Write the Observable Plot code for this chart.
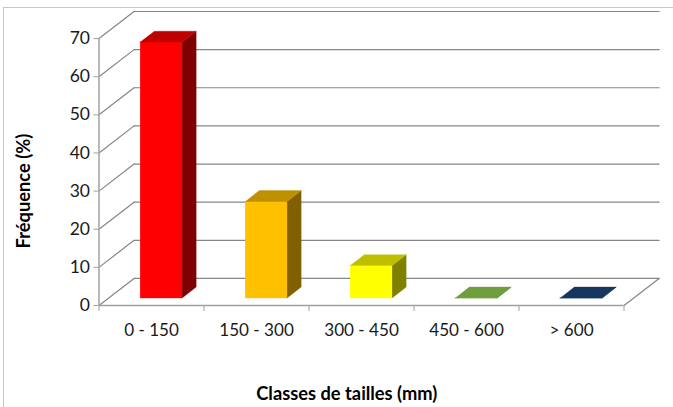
<!DOCTYPE html>
<html>
<head>
<meta charset="utf-8">
<script src="https://cdn.jsdelivr.net/npm/d3@7"></script>
<script src="https://cdn.jsdelivr.net/npm/@observablehq/plot@0.6"></script>
<style>
html,body{margin:0;padding:0;background:#fff;overflow:hidden}
#frame{position:absolute;left:3px;top:7px;width:670px;height:400px;border-left:1.5px solid #c6c6c6;border-top:1.5px solid #c6c6c6;box-sizing:border-box}
#chart{position:absolute;left:0;top:0}
</style>
</head>
<body>
<div id="frame"></div>
<div id="chart"></div>
<script>
const categories = ["0 - 150", "150 - 300", "300 - 450", "450 - 600", "> 600"];
const values = [67.1, 25.3, 8.5, 0, 0];
const frontColors = ["#FF0000", "#FFC000", "#FFFF00", "#9BBB59", "#1F497D"];
const topColors = ["#BE0000", "#BF9000", "#BFBF00", "#6F9F3C", "#17375E"];
const sideColors = ["#7F0000", "#806000", "#808000", "#4F6228", "#0F243E"];
const yTicks = [0, 10, 20, 30, 40, 50, 60, 70];
const xBounds = [0, 1, 2, 3, 4, 5];

// oblique depth of the chart box, in data units
const depthX = 0.334, depthY = 7.1;
const barLeft = 0.298, barWidth = 0.4, depthFront = 0.28, depthBack = 0.68;

const pt = (x, y, d) => ({x: x + d * depthX, y: y + d * depthY});

const grid = yTicks.flatMap(v => [
  {id: "w" + v, ...pt(0, v, 0)}, {id: "w" + v, ...pt(0, v, 1)},
  {id: "b" + v, ...pt(0, v, 1)}, {id: "b" + v, ...pt(5, v, 1)}
]);
grid.push({id: "fr", ...pt(5, 0, 0)}, {id: "fr", ...pt(5, 0, 1)});

const faces = categories.flatMap((c, i) => {
  const a = i + barLeft, b = a + barWidth, v = values[i];
  const face = (name, color, pts) => pts.map(p => ({id: c + name, color, ...p}));
  return [
    ...face("front", frontColors[i], [pt(a,0,depthFront), pt(b,0,depthFront), pt(b,v,depthFront), pt(a,v,depthFront)]),
    ...face("side", sideColors[i], [pt(b,0,depthFront), pt(b,0,depthBack), pt(b,v,depthBack), pt(b,v,depthFront)]),
    ...face("top", topColors[i], [pt(a,v,depthFront), pt(b,v,depthFront), pt(b,v,depthBack), pt(a,v,depthBack)])
  ];
});

const font = "Lato, Carlito, Calibri, sans-serif";

const plot = Plot.plot({
  width: 673,
  height: 407,
  marginLeft: 98.5,
  marginRight: 14.4,
  marginTop: 11,
  marginBottom: 102,
  style: {fontFamily: font, background: "transparent", overflow: "visible"},
  x: {type: "linear", domain: [0, 5 + depthX]},
  y: {type: "linear", domain: [0, 70 + depthY]},
  marks: [
    Plot.line(grid, {x: "x", y: "y", z: "id", stroke: "#868686", strokeWidth: 1.2}),
    Plot.line(faces, {x: "x", y: "y", z: "id", fill: "color", stroke: "color", strokeWidth: 0.4}),
    Plot.ruleX([0], {y1: 0, y2: 70, stroke: "#a8a8a8", strokeWidth: 1.6}),
    Plot.ruleY([0], {x1: 0, x2: 5, stroke: "#a0a0a0", strokeWidth: 1.6}),
    Plot.axisY({ticks: yTicks, tickSize: 5, tickPadding: 4, stroke: "#a0a0a0", fill: "#1a1a1a", fontSize: 17.5, label: null, anchor: "left"}),
    Plot.axisX({ticks: xBounds, tickSize: 6, stroke: "#a0a0a0", tickFormat: () => "", label: null, anchor: "bottom"}),
    Plot.text(categories, {x: (d, i) => i + 0.5, y: 0, text: d => d, dy: 25, fill: "#1a1a1a", fontSize: 17.1, lineAnchor: "middle"}),
    Plot.text(["Classes de tailles (mm)"], {x: 2.36, y: 0, dy: 89, text: d => d, fontWeight: 700, fontSize: 18.3, fill: "#000", lineAnchor: "middle"}),
    Plot.text(["Fréquence (%)"], {x: 0, y: 30, dx: -75, text: d => d, rotate: -90, fontWeight: 700, fontSize: 18.3, fill: "#000", lineAnchor: "middle"})
  ]
});
document.getElementById("chart").append(plot);
</script>
</body>
</html>
